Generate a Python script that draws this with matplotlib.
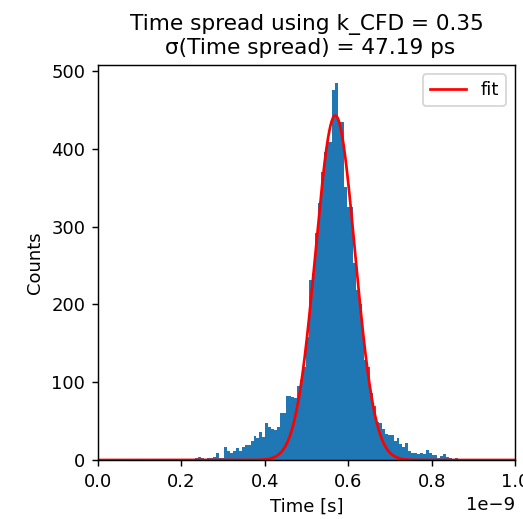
import numpy as np
import matplotlib
matplotlib.use("Agg")
import matplotlib.pyplot as plt

# Histogram bins (ns) and counts
bin_start_ns = 0.205
bin_width_ns = 0.007
counts = [
    0, 0, 1, 0, 2, 4, 2, 1, 2, 3,
    4, 9, 3, 3, 17, 11, 9, 11, 15, 11,
    17, 19, 19, 24, 31, 28, 36, 30, 48, 42,
    40, 38, 43, 60, 60, 82, 82, 81, 80, 95,
    103, 120, 158, 232, 240, 292, 331, 370, 396, 409,
    409, 476, 485, 435, 435, 351, 326, 326, 253, 219,
    200, 167, 129, 120, 86, 70, 49, 47, 40, 34,
    32, 32, 25, 28, 20, 17, 22, 12, 9, 9,
    8, 9, 8, 13, 9, 7, 6, 3, 5, 8,
    4, 2, 1, 2, 1, 0, 1, 0, 0, 0,
]

# Gaussian fit parameters
fit_amp = 443.0
fit_mu_ns = 0.569
fit_sigma_ps = 47.19
k_cfd = 0.35

edges = (bin_start_ns + bin_width_ns * np.arange(len(counts) + 1)) * 1e-9

DPI = 130
W, H = 523, 519
fig = plt.figure(figsize=(W / DPI, H / DPI), dpi=DPI)
ax = fig.add_axes([98 / W, 1 - 460 / H, (515 - 98) / W, (460 - 65) / H])

ax.hist(edges[:-1], bins=edges, weights=counts, color="#1f77b4")

xf = np.linspace(0, 1e-9, 1000)
mu = fit_mu_ns * 1e-9
sig = fit_sigma_ps * 1e-12
ax.plot(xf, fit_amp * np.exp(-0.5 * ((xf - mu) / sig) ** 2), color="red", lw=1.5, label="fit")

ax.set_xlim(0, 1e-9)
ax.set_ylim(0, 508)
ax.set_xlabel("Time [s]")
ax.set_ylabel("Counts")
ax.set_title(f"Time spread using k_CFD = {k_cfd}\n σ(Time spread) = {fit_sigma_ps:.2f} ps")
ax.legend(loc="upper right")

fig.savefig("out.png", dpi=DPI)
